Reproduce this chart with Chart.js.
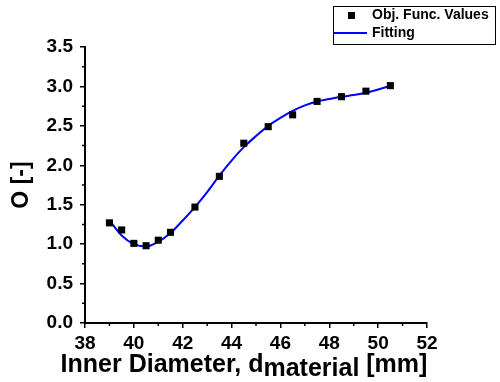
<!DOCTYPE html>
<html>
<head>
<meta charset="utf-8">
<script src="https://cdn.jsdelivr.net/npm/chart.js@4.4.1/dist/chart.umd.min.js"></script>
<style>
  html, body { margin: 0; padding: 0; background: #fff; }
  #wrap { width: 500px; height: 382px; }
</style>
</head>
<body>
<div id="wrap"><canvas id="fitChart" width="500" height="382"></canvas></div>
<script>
// measured objective function values
const objX = [39, 39.5, 40, 40.5, 41, 41.5, 42.5, 43.5, 44.5, 45.5, 46.5, 47.5, 48.5, 49.5, 50.5];
const objY = [1.27, 1.18, 1.01, 0.98, 1.05, 1.15, 1.47, 1.86, 2.28, 2.49, 2.64, 2.81, 2.87, 2.94, 3.01];

// fitted curve
const fitX = [39, 39.5, 40, 40.5, 41, 41.5, 42, 42.5, 43, 43.5, 44, 44.5, 45, 45.5, 46, 46.5, 47, 47.5, 48, 48.5, 49, 49.5, 50, 50.5];
const fitY = [1.30, 1.11, 1.00, 0.97, 1.03, 1.14, 1.30, 1.47, 1.66, 1.87, 2.06, 2.23, 2.37, 2.50, 2.60, 2.69, 2.76, 2.81, 2.84, 2.87, 2.89, 2.92, 2.96, 3.01];

const xMinorTicks = [39, 41, 43, 45, 47, 49, 51];
const yMinorTicks = [0.25, 0.75, 1.25, 1.75, 2.25, 2.75, 3.25];

const seriesLabels = ["Obj. Func. Values", "Fitting"];
const xTitleParts = ["Inner Diameter, d", "material", " [mm]"];

const FONT = "'Liberation Sans', Arial, sans-serif";

// minor ticks, legend box and x axis title (with subscript)
const extrasPlugin = {
  id: "extras",
  afterDraw(chart) {
    const ctx = chart.ctx;
    const xs = chart.scales.x, ys = chart.scales.y;
    const area = chart.chartArea;
    ctx.save();
    ctx.strokeStyle = "#000";
    ctx.lineWidth = 1.5;
    ctx.beginPath();
    xMinorTicks.forEach(v => {
      const p = xs.getPixelForValue(v);
      ctx.moveTo(p, area.bottom);
      ctx.lineTo(p, area.bottom + 3);
    });
    yMinorTicks.forEach(v => {
      const p = ys.getPixelForValue(v);
      ctx.moveTo(area.left, p);
      ctx.lineTo(area.left - 3, p);
    });
    ctx.stroke();

    // legend
    ctx.lineWidth = 1;
    ctx.strokeRect(333.5, 6.5, 162, 38);
    ctx.fillStyle = "#000";
    ctx.fillRect(348, 12, 7, 7);
    ctx.strokeStyle = "#0000ff";
    ctx.lineWidth = 2;
    ctx.beginPath();
    ctx.moveTo(334, 33);
    ctx.lineTo(367, 33);
    ctx.stroke();
    ctx.fillStyle = "#000";
    ctx.font = "bold 14px " + FONT;
    ctx.textBaseline = "middle";
    ctx.textAlign = "left";
    ctx.fillText(chart.data.datasets[0].label, 372, 15);
    ctx.fillText(chart.data.datasets[1].label, 372, 33);

    // x title
    ctx.font = "bold 25px " + FONT;
    ctx.textBaseline = "alphabetic";
    const widths = xTitleParts.map(t => ctx.measureText(t).width);
    const total = widths.reduce((a, b) => a + b, 0);
    let tx = 244 - total / 2;
    const base = 372;
    xTitleParts.forEach((t, i) => {
      ctx.fillText(t, tx, i === 1 ? base + 4 : base);
      tx += widths[i];
    });
    ctx.restore();
  }
};

const ctx = document.getElementById("fitChart");
new Chart(ctx, {
  data: {
    datasets: [{
      type: "scatter",
      label: seriesLabels[0],
      data: objX.map((x, i) => ({ x: x, y: objY[i] })),
      pointStyle: "rect",
      pointRadius: 5,
      backgroundColor: "#000",
      borderColor: "#000",
      borderWidth: 0,
      order: 0
    }, {
      type: "line",
      label: seriesLabels[1],
      data: fitX.map((x, i) => ({ x: x, y: fitY[i] })),
      borderColor: "#0000ff",
      borderWidth: 2,
      pointRadius: 0,
      fill: false,
      cubicInterpolationMode: "monotone",
      order: 1
    }]
  },
  options: {
    responsive: false,
    animation: false,
    layout: { padding: { top: 47, right: 73, left: 0, bottom: 0 } },
    plugins: {
      legend: { display: false },
      tooltip: { enabled: false }
    },
    scales: {
      x: {
        type: "linear",
        min: 38,
        max: 52,
        afterFit: s => { s.height = 59; },
        ticks: {
          stepSize: 2,
          color: "#000",
          padding: 4,
          font: { family: FONT, size: 19, weight: "bold" }
        },
        grid: { drawOnChartArea: false, tickLength: 5, color: "#000", lineWidth: 1.5 },
        border: { color: "#000", width: 2 }
      },
      y: {
        min: 0,
        max: 3.5,
        afterFit: s => { s.width = 85; },
        ticks: {
          stepSize: 0.5,
          color: "#000",
          padding: 7,
          font: { family: FONT, size: 19, weight: "bold" },
          callback: v => v.toFixed(1)
        },
        grid: { drawOnChartArea: false, tickLength: 5, color: "#000", lineWidth: 1.5 },
        border: { color: "#000", width: 2 },
        title: {
          display: true,
          text: "O [-]",
          color: "#000",
          padding: { top: 8, bottom: 0 },
          font: { family: FONT, size: 23, weight: "bold" }
        }
      }
    }
  },
  plugins: [extrasPlugin]
});
</script>
</body>
</html>
